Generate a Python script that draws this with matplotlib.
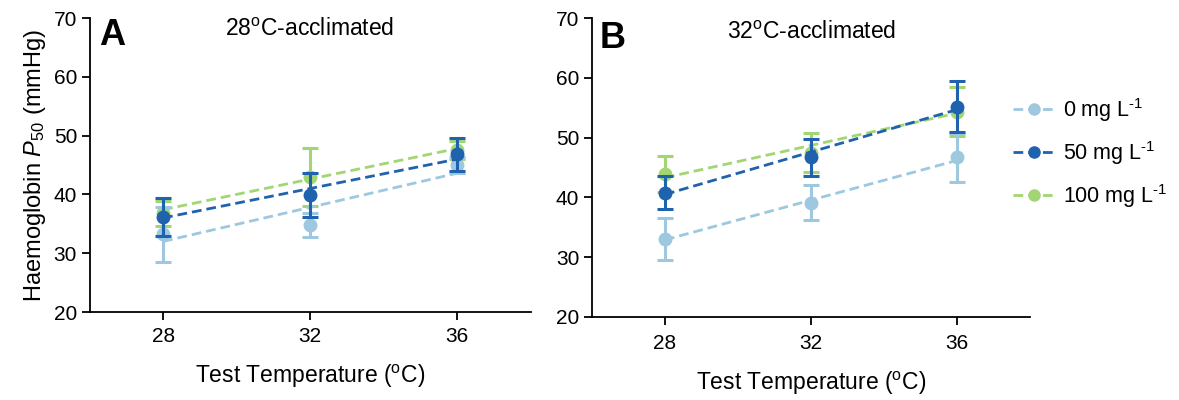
import matplotlib.pyplot as plt

plt.rcParams['font.family'] = ['Liberation Sans', 'DejaVu Sans']
plt.rcParams['mathtext.fontset'] = 'custom'
plt.rcParams['mathtext.rm'] = 'Liberation Sans'
plt.rcParams['mathtext.it'] = 'Liberation Sans:italic'

# Dados
temps = [28, 32, 36]
series = ['0 mg L$^{\\text{-1}}$', '50 mg L$^{\\text{-1}}$', '100 mg L$^{\\text{-1}}$']
cores = ['#9dc8e0', '#1f62ad', '#a2d672']

# Painel A: 28 C-aclimatado
a_mean = {'0': [33.2, 34.8, 45.0], '50': [36.2, 39.9, 46.8], '100': [36.8, 43.0, 47.5]}
a_err = {'0': [4.7, 2.1, 1.4], '50': [3.2, 3.7, 2.8], '100': [2.1, 4.9, 1.5]}
a_fit = {'0': [32.0, 43.6], '50': [36.0, 46.0], '100': [37.4, 47.8]}

# Painel B: 32 C-aclimatado
b_mean = {'0': [33.1, 39.1, 46.7], '50': [40.8, 46.7, 55.2], '100': [43.9, 47.5, 54.3]}
b_err = {'0': [3.5, 2.9, 4.1], '50': [2.8, 3.1, 4.2], '100': [3.0, 3.2, 4.1]}
b_fit = {'0': [32.9, 46.2], '50': [40.5, 54.7], '100': [43.3, 54.1]}

chaves = ['0', '50', '100']
ordem = [2, 0, 1]  # verde atras, azul escuro por cima

fig = plt.figure(figsize=(11.79, 4.0), dpi=100)
axA = fig.add_axes([0.076, 0.22, 0.374, 0.735])
axB = fig.add_axes([0.502, 0.2075, 0.372, 0.7475])


def desenhar(ax, medias, erros, fits, pad):
    handles = {}
    for z, i in enumerate(ordem):
        k = chaves[i]
        ax.plot([temps[0], temps[-1]], fits[k], ls=(0, (3.5, 1.8)), lw=2.0, color=cores[i], zorder=2 + 3 * z)
        ax.errorbar(temps, medias[k], yerr=erros[k], fmt='none', ecolor=cores[i],
                    elinewidth=2.2, capsize=6, capthick=2.2, zorder=3 + 3 * z)
        ax.plot(temps, medias[k], 'o', ms=9, color=cores[i], zorder=4 + 3 * z)
        handles[i] = plt.Line2D([], [], color=cores[i], lw=2.0, ls=(0, (3.5, 1.8)),
                                marker='o', ms=8)
    ax.set_xlim(26, 38)
    ax.set_ylim(20, 70)
    ax.set_xticks(temps)
    ax.set_yticks(range(20, 71, 10))
    for s in ['top', 'right']:
        ax.spines[s].set_visible(False)
    for s in ['left', 'bottom']:
        ax.spines[s].set_linewidth(1.3)
    ax.tick_params(width=1.3, length=6, labelsize=15, pad=3)
    ax.tick_params(axis='x', pad=pad)
    ax.set_xlabel('Test Temperature ($^{\\mathrm{o}}$C)', fontsize=16.5, labelpad=12)
    return handles


hA = desenhar(axA, a_mean, a_err, a_fit, 5)
hB = desenhar(axB, b_mean, b_err, b_fit, 6)

axA.set_ylabel('Haemoglobin $\\mathit{P}_{50}$ (mmHg)', fontsize=17, labelpad=4)
axA.text(0.022, 1.0, 'A', transform=axA.transAxes, fontsize=26, fontweight='bold', va='top')
axB.text(0.018, 0.99, 'B', transform=axB.transAxes, fontsize=26, fontweight='bold', va='top')
axA.text(0.5, 1.0, '28$^{\\mathrm{o}}$C-acclimated', transform=axA.transAxes, fontsize=16.5,
         ha='center', va='top')
axB.text(0.5, 0.99, '32$^{\\mathrm{o}}$C-acclimated', transform=axB.transAxes, fontsize=16.5,
         ha='center', va='top')

fig.legend([hB[0], hB[1], hB[2]], series, loc='center left', bbox_to_anchor=(0.843, 0.6175),
           frameon=False, fontsize=15.5, handlelength=1.9, handletextpad=0.4,
           labelspacing=0.7)

plt.savefig('out.png', dpi=100)
